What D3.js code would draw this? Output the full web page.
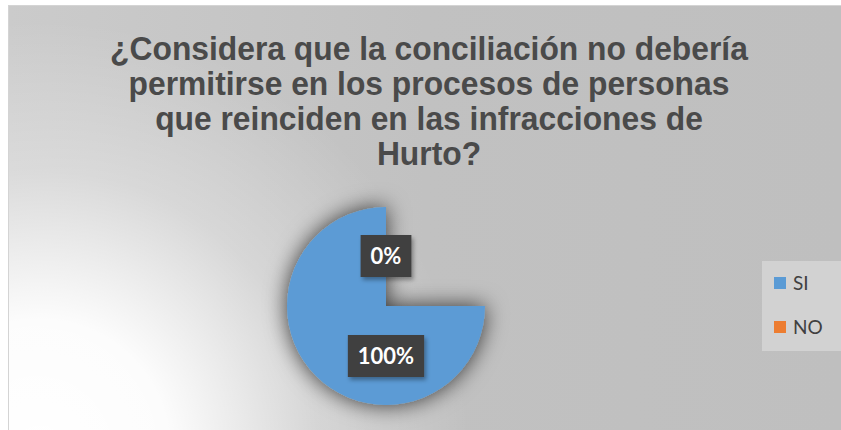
<!DOCTYPE html>
<html>
<head>
<meta charset="utf-8">
<script src="https://cdn.jsdelivr.net/npm/d3@7"></script>
<style>
  body { margin: 0; background: #fff; }
  svg { display: block; }
</style>
</head>
<body>
<svg id="chart"></svg>
<script>
// data
const categories = ["SI", "NO"];
const values = [100, 0];
const colors = ["#5b9bd5", "#ed7d31"];
const titleLines = [
  "¿Considera que la conciliación no debería",
  "permitirse en los procesos de personas",
  "que reinciden en las infracciones de",
  "Hurto?"
];

const width = 841, height = 430;
const svg = d3.select("#chart").attr("width", width).attr("height", height);
const defs = svg.append("defs");

// background gradients
const bgLin = defs.append("linearGradient").attr("id", "bgLin")
  .attr("x1", 0).attr("y1", 0).attr("x2", 1).attr("y2", 0);
bgLin.append("stop").attr("offset", 0).attr("stop-color", "#cbcbcb");
bgLin.append("stop").attr("offset", 0.5).attr("stop-color", "#c1c1c1");
bgLin.append("stop").attr("offset", 1).attr("stop-color", "#bfbfbf");

const bgRad = defs.append("radialGradient").attr("id", "bgRad")
  .attr("gradientUnits", "userSpaceOnUse")
  .attr("cx", 40).attr("cy", 450).attr("r", 430);
bgRad.append("stop").attr("offset", 0).attr("stop-color", "#fff").attr("stop-opacity", 1);
bgRad.append("stop").attr("offset", 0.3).attr("stop-color", "#fff").attr("stop-opacity", 0.95);
bgRad.append("stop").attr("offset", 0.65).attr("stop-color", "#fff").attr("stop-opacity", 0.3);
bgRad.append("stop").attr("offset", 1).attr("stop-color", "#fff").attr("stop-opacity", 0);

const pieShadow = defs.append("filter").attr("id", "pieShadow")
  .attr("x", "-50%").attr("y", "-50%").attr("width", "200%").attr("height", "200%");
pieShadow.append("feDropShadow").attr("dx", 0).attr("dy", 0)
  .attr("stdDeviation", 11).attr("flood-color", "#000").attr("flood-opacity", 0.75);

const boxShadow = defs.append("filter").attr("id", "boxShadow")
  .attr("x", "-30%").attr("y", "-30%").attr("width", "160%").attr("height", "160%");
boxShadow.append("feDropShadow").attr("dx", 2).attr("dy", 3)
  .attr("stdDeviation", 2).attr("flood-color", "#000").attr("flood-opacity", 0.35);

const frame = { x: 8, y: 5 };
svg.append("rect").attr("x", frame.x).attr("y", frame.y)
  .attr("width", width - frame.x).attr("height", height - frame.y)
  .attr("fill", "url(#bgLin)");
svg.append("rect").attr("x", frame.x).attr("y", frame.y)
  .attr("width", width - frame.x).attr("height", height - frame.y)
  .attr("fill", "url(#bgRad)");
svg.append("line").attr("x1", frame.x + 0.5).attr("x2", frame.x + 0.5)
  .attr("y1", frame.y).attr("y2", height).attr("stroke", "#d4d4d4");
svg.append("line").attr("x1", frame.x).attr("x2", width)
  .attr("y1", frame.y + 0.5).attr("y2", frame.y + 0.5).attr("stroke", "#d4d4d4");

// title
const titleCx = 429, titleTop = 60, lineStep = 35;
const title = svg.append("g");
const firstWidth = 638;
let squeeze = 1;
titleLines.forEach((t, i) => {
  const txt = title.append("text")
    .attr("x", titleCx).attr("y", titleTop + i * lineStep)
    .attr("text-anchor", "middle")
    .style("font-family", "'Liberation Sans', Arial, sans-serif")
    .style("font-weight", "bold")
    .style("font-size", "32.5px")
    .attr("fill", "#4a4a4a")
    .text(t);
  if (i === 0) squeeze = firstWidth / txt.node().getComputedTextLength();
});
title.selectAll("text")
  .attr("transform", `translate(${titleCx},0) scale(${squeeze},1) translate(${-titleCx},0)`);

// pie
const cx = 386, cy = 306, r = 99;
const pieData = categories.map((c, i) => ({ cat: c, value: values[i], color: colors[i] }));
// drawn slices start at 3 o'clock, as in the reference picture
const drawPie = d3.pie().value(d => d.value).sort(null)
  .startAngle(Math.PI / 2).endAngle(2 * Math.PI);
const labelPie = d3.pie().value(d => d.value).sort(null);
const arc = d3.arc().innerRadius(0).outerRadius(r);
const labelArc = d3.arc().innerRadius(50).outerRadius(50);

const g = svg.append("g").attr("transform", `translate(${cx},${cy})`);
g.append("g").attr("filter", "url(#pieShadow)")
  .selectAll("path").data(drawPie(pieData)).join("path")
  .attr("d", arc).attr("fill", d => d.data.color);

const labels = g.selectAll("g.lab").data(labelPie(pieData)).join("g")
  .attr("class", "lab")
  .attr("transform", d => {
    const [x, y] = labelArc.centroid(d);
    return `translate(${x},${y})`;
  });
labels.each(function(d) {
  const lg = d3.select(this);
  const total = d3.sum(values);
  const rect = lg.append("rect").attr("fill", "#404040").attr("filter", "url(#boxShadow)");
  const t = lg.append("text")
    .attr("text-anchor", "middle").attr("dy", "0.36em")
    .style("font-family", "Lato, 'Open Sans', sans-serif")
    .style("font-weight", "bold").style("font-size", "22px")
    .attr("fill", "#fff")
    .text(d3.format(".0%")(d.data.value / total));
  const w = t.node().getComputedTextLength() + 20, h = 42;
  rect.attr("x", -w / 2).attr("y", -h / 2).attr("width", w).attr("height", h);
});

// legend
const legend = svg.append("g");
legend.append("rect").attr("x", 762).attr("y", 261).attr("width", 79).attr("height", 90)
  .attr("fill", "#d2d2d2");
const legY = d3.scalePoint().domain(categories).range([283, 327]);
const items = legend.selectAll("g.item").data(pieData).join("g")
  .attr("class", "item")
  .attr("transform", d => `translate(774,${legY(d.cat)})`);
items.append("rect").attr("x", 0).attr("y", -6).attr("width", 12).attr("height", 12)
  .attr("fill", d => d.color);
items.append("text").attr("x", 19).attr("dy", "0.36em")
  .style("font-family", "Lato, 'Open Sans', sans-serif").style("font-size", "19px")
  .attr("fill", "#404040").text(d => d.cat);
</script>
</body>
</html>
